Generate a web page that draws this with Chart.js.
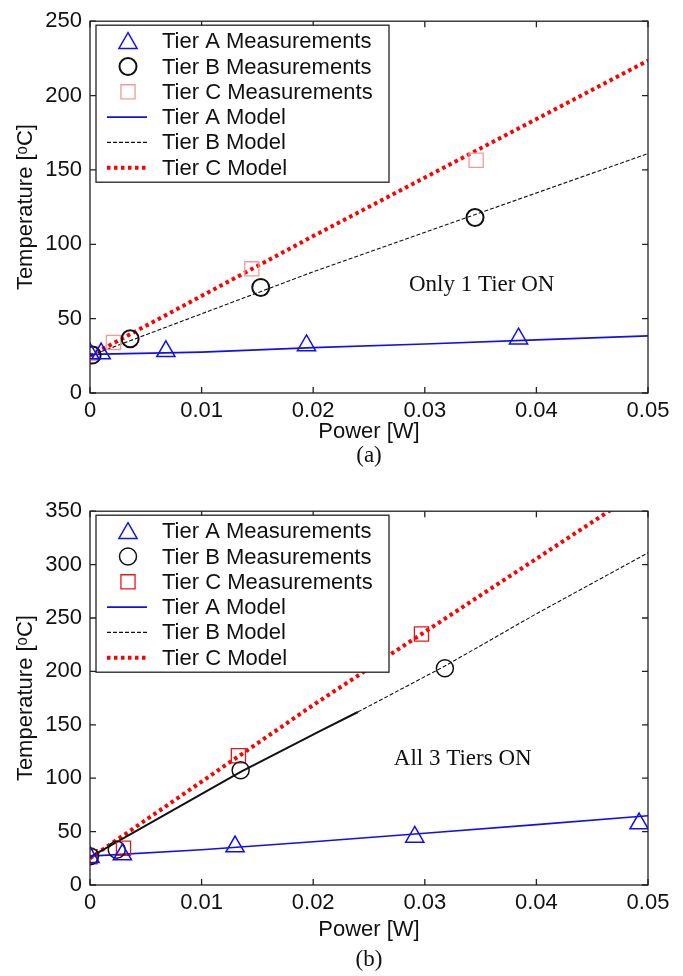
<!DOCTYPE html>
<html>
<head>
<meta charset="utf-8">
<script src="https://cdn.jsdelivr.net/npm/chart.js@4.4.1/dist/chart.umd.min.js"></script>
<style>
  body { margin: 0; background: #fff; }
  #wrap { position: relative; width: 683px; height: 976px; }
  canvas { position: absolute; left: 0; }
  .cap { position: absolute; width: 80px; text-align: center; font: 23px "Liberation Serif", "Times New Roman", serif; color: #111; }
</style>
</head>
<body>
<div id="wrap">
  <canvas id="chartA" width="683" height="470" style="top:0"></canvas>
  <canvas id="chartB" width="683" height="486" style="top:490px"></canvas>
  <div class="cap" style="left:329px; top:442px">(a)</div>
  <div class="cap" style="left:329px; top:946px">(b)</div>
</div>
<script>
// 軸刻度
var xTicks = [0, 0.01, 0.02, 0.03, 0.04, 0.05];
var xTickLabels = ['0', '0.01', '0.02', '0.03', '0.04', '0.05'];
var yTicksA = [0, 50, 100, 150, 200, 250];
var yTicksB = [0, 50, 100, 150, 200, 250, 300, 350];

// (a) 只開一層
var aMeasPowerA = [0, 0.001, 0.0068, 0.0194, 0.0384];
var aMeasTempA  = [26.5, 26.5, 28, 32, 36.5];
var aMeasPowerB = [0.0002, 0.0036, 0.0153, 0.0345];
var aMeasTempB  = [25.5, 36.5, 71, 118];
var aMeasPowerC = [0, 0.0021, 0.0145, 0.0346];
var aMeasTempC  = [26.5, 34, 83.5, 156.5];
var aModelPowerA = [0, 0.01, 0.02, 0.03, 0.04, 0.05];
var aModelTempA  = [26, 27.5, 30.5, 32.9, 35.7, 38.4];
var aModelPowerB = [0, 0.02, 0.05];
var aModelTempB  = [25, 81.5, 161];
var aModelPowerC = [0, 0.02, 0.05];
var aModelTempC  = [25, 105.5, 223.5];

// (b) 三層全開
var bMeasPowerA = [0, 0.0029, 0.013, 0.0291, 0.0492];
var bMeasTempA  = [26, 28.5, 36, 45, 57.5];
var bMeasPowerB = [0, 0.0024, 0.0135, 0.0318];
var bMeasTempB  = [27, 33, 107.5, 203];
var bMeasPowerC = [0, 0.003, 0.0133, 0.0297];
var bMeasTempC  = [26.5, 34.5, 121, 235];
var bModelPowerA = [0, 0.01, 0.02, 0.03, 0.04, 0.05];
var bModelTempA  = [27, 33, 40.5, 48.5, 56.5, 64.8];
var bModelPowerB = [0, 0.0135, 0.0206, 0.024, 0.0318, 0.04, 0.05];
var bModelTempB  = [26, 106, 144, 162, 205, 254, 311];
var bModelPowerC = [0, 0.02, 0.05];
var bModelTempC  = [25, 168.5, 374];

var labelsAll = ['Tier A Measurements', 'Tier B Measurements', 'Tier C Measurements',
                 'Tier A Model', 'Tier B Model', 'Tier C Model'];

var SANS = '"Liberation Sans", Arial, Helvetica, sans-serif';
var SERIF = '"Liberation Serif", "Times New Roman", serif';
var BLUE = '#1010ee';

function pts(xs, ys) {
    return xs.map(function(x, i) { return { x: x, y: ys[i] }; });
}

// 圖框與向內的刻度
var framePlugin = {
    id: 'frame',
    afterDatasetsDraw: function(chart) {
        var ctx = chart.ctx, a = chart.chartArea;
        var xs = chart.scales.x, ys = chart.scales.y;
        ctx.save();
        ctx.strokeStyle = '#222';
        ctx.lineWidth = 1.3;
        ctx.strokeRect(a.left, a.top, a.right - a.left, a.bottom - a.top);
        ctx.beginPath();
        xs.ticks.forEach(function(t) {
            var p = xs.getPixelForValue(t.value);
            ctx.moveTo(p, a.bottom); ctx.lineTo(p, a.bottom - 6);
            ctx.moveTo(p, a.top); ctx.lineTo(p, a.top + 6);
        });
        ys.ticks.forEach(function(t) {
            var p = ys.getPixelForValue(t.value);
            ctx.moveTo(a.left, p); ctx.lineTo(a.left + 6, p);
            ctx.moveTo(a.right, p); ctx.lineTo(a.right - 6, p);
        });
        ctx.stroke();
        // 註解文字
        var note = chart.options.plugins.frame;
        ctx.fillStyle = '#111';
        ctx.font = '23px ' + SERIF;
        ctx.textAlign = 'center';
        ctx.textBaseline = 'middle';
        ctx.fillText(note.text, xs.getPixelForValue(note.x), ys.getPixelForValue(note.y));
        ctx.restore();
    }
};

function drawMarker(ctx, style, x, y, r) {
    ctx.beginPath();
    if (style === 'triangle') {
        ctx.moveTo(x, y - r);
        ctx.lineTo(x + r * Math.sqrt(3) / 2, y + r / 2);
        ctx.lineTo(x - r * Math.sqrt(3) / 2, y + r / 2);
        ctx.closePath();
    } else if (style === 'circle') {
        ctx.arc(x, y, r, 0, Math.PI * 2);
    } else {
        var s = r * Math.SQRT1_2;
        ctx.rect(x - s, y - s, 2 * s, 2 * s);
    }
    ctx.stroke();
}

// 圖內的圖例方框
var boxLegend = {
    id: 'boxLegend',
    afterDraw: function(chart) {
        var ctx = chart.ctx, a = chart.chartArea;
        var left = a.left + 6, top = a.top + 4, w = 293, h = 157;
        ctx.save();
        ctx.fillStyle = '#fff';
        ctx.fillRect(left, top, w, h);
        ctx.strokeStyle = '#222';
        ctx.lineWidth = 1.3;
        ctx.strokeRect(left, top, w, h);
        chart.data.datasets.forEach(function(ds, i) {
            var y = top + 16 + i * 25.3;
            ctx.strokeStyle = ds.borderColor;
            ctx.lineWidth = ds.showLine === false ? ds.pointBorderWidth : ds.borderWidth;
            if (ds.showLine === false) {
                ctx.setLineDash([]);
                drawMarker(ctx, ds.pointStyle, left + 32, y + (ds.pointStyle === 'triangle' ? 2 : 0), ds.pointRadius);
            } else {
                ctx.setLineDash(ds.borderDash || []);
                ctx.beginPath();
                ctx.moveTo(left + 11, y);
                ctx.lineTo(left + 51, y);
                ctx.stroke();
            }
            ctx.setLineDash([]);
            ctx.fillStyle = '#111';
            ctx.font = '22px ' + SANS;
            ctx.textBaseline = 'middle';
            ctx.textAlign = 'left';
            ctx.fillText(ds.label, left + 66, y + 1);
        });
        ctx.restore();
    }
};

function makeDatasets(m, circleWidth, squareColor) {
    return [
        { label: labelsAll[0], data: pts(m[0], m[1]), showLine: false, pointStyle: 'triangle',
          pointRadius: 10.5, pointBorderWidth: 1.5, borderColor: BLUE, pointBackgroundColor: 'rgba(0,0,0,0)' },
        { label: labelsAll[1], data: pts(m[2], m[3]), showLine: false, pointStyle: 'circle',
          pointRadius: 8.5, pointBorderWidth: circleWidth, borderColor: '#111', pointBackgroundColor: 'rgba(0,0,0,0)' },
        { label: labelsAll[2], data: pts(m[4], m[5]), showLine: false, pointStyle: 'rect',
          pointRadius: 10, pointBorderWidth: 1.3, borderColor: squareColor, pointBackgroundColor: 'rgba(0,0,0,0)' },
        { label: labelsAll[3], data: pts(m[6], m[7]), borderColor: BLUE, borderWidth: 1.6,
          pointRadius: 0, tension: 0 },
        { label: labelsAll[4], data: pts(m[8], m[9]), borderColor: '#111', borderWidth: 1.1,
          borderDash: [4, 2], pointRadius: 0, tension: 0, segment: m[12] },
        { label: labelsAll[5], data: pts(m[10], m[11]), borderColor: '#ff0000', borderWidth: 4,
          borderDash: [3.5, 3.5], pointRadius: 0, tension: 0 }
    ];
}

function makeChart(id, datasets, yMax, yTicks, padTop, padBottom, xHeight, note) {
    var ctx = document.getElementById(id).getContext('2d');
    return new Chart(ctx, {
        type: 'line',
        data: { datasets: datasets },
        options: {
            responsive: false,
            animation: false,
            devicePixelRatio: 1,
            layout: { padding: { top: padTop, right: 35, left: 0, bottom: padBottom } },
            plugins: { legend: { display: false }, tooltip: { enabled: false }, frame: note },
            scales: {
                x: {
                    type: 'linear', min: 0, max: 0.05,
                    grid: { display: false, drawTicks: false },
                    border: { display: false },
                    afterBuildTicks: function(s) { s.ticks = xTicks.map(function(v) { return { value: v }; }); },
                    afterFit: function(s) { s.height = xHeight; },
                    ticks: {
                        padding: 5, color: '#111', font: { family: SANS, size: 22 },
                        callback: function(v) { return xTickLabels[xTicks.indexOf(v)]; }
                    },
                    title: { display: true, text: 'Power [W]', color: '#111',
                             font: { family: SANS, size: 22 }, padding: { top: 0, bottom: 0 } }
                },
                y: {
                    min: 0, max: yMax,
                    grid: { display: false, drawTicks: false },
                    border: { display: false },
                    afterBuildTicks: function(s) { s.ticks = yTicks.map(function(v) { return { value: v }; }); },
                    afterFit: function(s) { s.width = 90; },
                    ticks: { padding: 8, color: '#111', font: { family: SANS, size: 22 } },
                    title: { display: true, text: 'Temperature [ᵒC]', color: '#111',
                             font: { family: SANS, size: 22 }, padding: { top: 13, bottom: 0 } }
                }
            }
        },
        plugins: [framePlugin, boxLegend]
    });
}

// B 模型在前段因資料點密集而看起來是實線
var bSegment = {
    borderDash: function(c) { return c.p1.parsed.x <= 0.0241 ? [] : [4, 2]; },
    borderWidth: function(c) { return c.p1.parsed.x <= 0.0241 ? 2 : 1.1; }
};

makeChart('chartA',
    makeDatasets([aMeasPowerA, aMeasTempA, aMeasPowerB, aMeasTempB, aMeasPowerC, aMeasTempC,
                  aModelPowerA, aModelTempA, aModelPowerB, aModelTempB, aModelPowerC, aModelTempC, undefined],
                 2, '#f29a9a'),
    250, yTicksA, 15, 25, 52, { text: 'Only 1 Tier ON', x: 0.0351, y: 72.7 });

makeChart('chartB',
    makeDatasets([bMeasPowerA, bMeasTempA, bMeasPowerB, bMeasTempB, bMeasPowerC, bMeasTempC,
                  bModelPowerA, bModelTempA, bModelPowerB, bModelTempB, bModelPowerC, bModelTempC, bSegment],
                 1.5, '#ee1515'),
    350, yTicksB, 17, 33, 58, { text: 'All 3 Tiers ON', x: 0.0334, y: 117.6 });
</script>
</body>
</html>
